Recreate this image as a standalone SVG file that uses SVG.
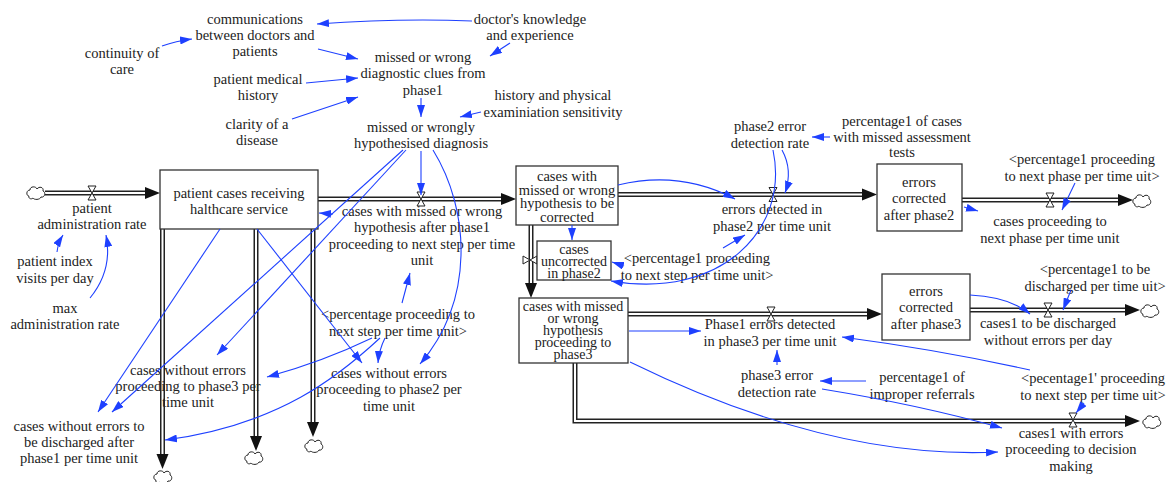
<svg xmlns="http://www.w3.org/2000/svg" xmlns:xlink="http://www.w3.org/1999/xlink" width="1176" height="482" viewBox="0 0 1176 482">
<style>
.t{font-family:"Liberation Serif","Times New Roman",serif;font-size:14.5px;fill:#222;text-anchor:middle}
.ts{font-size:14px}
.stock{fill:#fff;stroke:#333;stroke-width:1.3}
.po{fill:none;stroke:#222;stroke-width:5;stroke-linejoin:miter}
.pi{fill:none;stroke:#fff;stroke-width:2;stroke-linejoin:miter}
.lk{fill:none;stroke:#1e40ff;stroke-width:1.1;marker-end:url(#ab)}
.valve{fill:#fff;stroke:#222;stroke-width:1}
.cloud{fill:#fff;stroke:#222;stroke-width:1}
.ah{fill:#111}
</style>
<defs>
<marker id="ab" viewBox="0 0 12 8" refX="12" refY="4" markerWidth="12" markerHeight="8" orient="auto" markerUnits="userSpaceOnUse"><path d="M0,0 L12,4 L0,8 Z" fill="#1e40ff"/></marker>
<path id="ah" d="M0,0 L-15,-6 L-15,6 Z"/>
<polygon id="vv" points="-4,-7 4,-7 -4,7 4,7"/>
<path id="cl" d="M-7,3 C-10,3 -10,-3 -6,-3 C-6,-7 0,-7 1,-4 C3,-7 8,-6 7,-2 C10,-1 9,5 5,4 C4,7 -2,7 -3,5 C-5,7 -8,5 -7,3 Z"/>
</defs>

<g id="flows">
<path class="po" d="M45,193 L146,193"/><path class="pi" d="M45,193 L146,193"/>
<use href="#ah" class="ah" transform="translate(160,193)"/>
<use href="#cl" class="cloud" transform="translate(36,193)"/>
<use href="#vv" class="valve" transform="translate(92,193)"/>
<path class="po" d="M318,199 L502,199"/><path class="pi" d="M318,199 L502,199"/>
<use href="#ah" class="ah" transform="translate(516,199)"/>
<use href="#vv" class="valve" transform="translate(421,199)"/>
<path class="po" d="M618,194.5 L863,194.5"/><path class="pi" d="M618,194.5 L863,194.5"/>
<use href="#ah" class="ah" transform="translate(877,194.5)"/>
<use href="#vv" class="valve" transform="translate(773,194.5)"/>
<path class="po" d="M962,200 L1119,200"/><path class="pi" d="M962,200 L1119,200"/>
<use href="#ah" class="ah" transform="translate(1133,200)"/>
<use href="#cl" class="cloud" transform="translate(1142,201)"/>
<use href="#vv" class="valve" transform="translate(1050,200)"/>
<path class="po" d="M531,225 L531,284"/><path class="pi" d="M531,225 L531,284"/>
<use href="#ah" class="ah" transform="translate(531,298) rotate(90)"/>
<use href="#vv" class="valve" transform="translate(530,260) rotate(90)"/>
<path class="po" d="M628,314 L868,314"/><path class="pi" d="M628,314 L868,314"/>
<use href="#ah" class="ah" transform="translate(882,314)"/>
<use href="#vv" class="valve" transform="translate(771,314)"/>
<path class="po" d="M970,310 L1126,310"/><path class="pi" d="M970,310 L1126,310"/>
<use href="#ah" class="ah" transform="translate(1140,310)"/>
<use href="#cl" class="cloud" transform="translate(1150,311)"/>
<use href="#vv" class="valve" transform="translate(1048,310)"/>
<path class="po" d="M575,363 L575,421 L1126,421"/><path class="pi" d="M575,363 L575,421 L1126,421"/>
<use href="#ah" class="ah" transform="translate(1140,421)"/>
<use href="#cl" class="cloud" transform="translate(1152,422)"/>
<use href="#vv" class="valve" transform="translate(1073,420)"/>
<path class="po" d="M162.5,229 L162.5,455"/><path class="pi" d="M162.5,229 L162.5,455"/>
<use href="#ah" class="ah" transform="translate(162.5,469) rotate(90)"/>
<use href="#cl" class="cloud" transform="translate(163,477)"/>
<path class="po" d="M256,229 L256,437"/><path class="pi" d="M256,229 L256,437"/>
<use href="#ah" class="ah" transform="translate(256,451) rotate(90)"/>
<use href="#cl" class="cloud" transform="translate(254,458)"/>
<path class="po" d="M313,229 L313,423"/><path class="pi" d="M313,229 L313,423"/>
<use href="#ah" class="ah" transform="translate(313,437) rotate(90)"/>
<use href="#cl" class="cloud" transform="translate(314,446)"/>
</g>

<g id="stocks">
<g id="s1"><rect class="stock" x="160" y="170" width="158" height="59"/>
<text class="t" x="239" y="198">patient cases receiving<tspan x="239" dy="16">halthcare service</tspan></text></g>
<g id="s2"><rect class="stock" x="516" y="166" width="102" height="59"/>
<text class="t" x="567" y="181">cases with<tspan x="567" dy="13.7">missed or wrong</tspan><tspan x="567" dy="13.7">hypothesis to be</tspan><tspan x="567" dy="13.7">corrected</tspan></text></g>
<g id="s3"><rect class="stock" x="537" y="241" width="74" height="39"/>
<text class="t ts" x="574" y="254">cases<tspan x="574" dy="11.8">uncorrected</tspan><tspan x="574" dy="11.8">in phase2</tspan></text></g>
<g id="s4"><rect class="stock" x="519" y="298" width="109" height="65"/>
<text class="t ts" x="573" y="311">cases with missed<tspan x="573" dy="11.9">or wrong</tspan><tspan x="573" dy="11.9">hypothesis</tspan><tspan x="573" dy="11.9">proceeding to</tspan><tspan x="573" dy="11.9">phase3</tspan></text></g>
<g id="s5"><rect class="stock" x="877" y="164" width="85" height="67"/>
<text class="t" x="919" y="187">errors<tspan x="919" dy="16.3">corrected</tspan><tspan x="919" dy="16.3">after phase2</tspan></text></g>
<g id="s6"><rect class="stock" x="882" y="274" width="88" height="66"/>
<text class="t" x="926" y="296">errors<tspan x="926" dy="16.3">corrected</tspan><tspan x="926" dy="16.3">after phase3</tspan></text></g>
</g>

<g id="variables">
<text id="v1" class="t" x="255" y="24">communications<tspan x="255" dy="16">between doctors and</tspan><tspan x="255" dy="16">patients</tspan></text>
<text id="v2" class="t" x="122" y="58">continuity of<tspan x="122" dy="16">care</tspan></text>
<text id="v3" class="t" x="530" y="24">doctor's knowledge<tspan x="530" dy="16">and experience</tspan></text>
<text id="v4" class="t" x="423" y="62">missed or wrong<tspan x="423" dy="16.3">diagnostic clues from</tspan><tspan x="423" dy="16.3">phase1</tspan></text>
<text id="v5" class="t" x="258" y="84">patient medical<tspan x="258" dy="16">history</tspan></text>
<text id="v6" class="t" x="257" y="129">clarity of a<tspan x="257" dy="16">disease</tspan></text>
<text id="v7" class="t" x="553" y="100">history and physical<tspan x="553" dy="16.5">examiniation sensitivity</tspan></text>
<text id="v8" class="t" x="421" y="132">missed or wrongly<tspan x="421" dy="16">hypothesised diagnosis</tspan></text>
<text id="v9" class="t" x="92" y="213">patient<tspan x="92" dy="16">administration rate</tspan></text>
<text id="v10" class="t" x="55" y="266">patient index<tspan x="55" dy="16.5">visits per day</tspan></text>
<text id="v11" class="t" x="65" y="313">max<tspan x="65" dy="16">administration rate</tspan></text>
<text id="v12" class="t" x="422" y="216">cases with missed or wrong<tspan x="422" dy="16.3">hypothesis after phase1</tspan><tspan x="422" dy="16.3">proceeding to next step per time</tspan><tspan x="422" dy="16.3">unit</tspan></text>
<text id="v13" class="t" x="398" y="319">&lt;percentage proceeding to<tspan x="398" dy="16.5">next step per time unit&gt;</tspan></text>
<text id="v14" class="t" x="188" y="375">cases without errors<tspan x="188" dy="16">proceeding to phase3 per</tspan><tspan x="188" dy="16">time unit</tspan></text>
<text id="v15" class="t" x="389" y="378">cases without errors<tspan x="389" dy="16.3">proceeding to phase2 per</tspan><tspan x="389" dy="16.3">time unit</tspan></text>
<text id="v16" class="t" x="79" y="431">cases without errors to<tspan x="79" dy="16">be discharged after</tspan><tspan x="79" dy="16">phase1 per time unit</tspan></text>
<text id="v17" class="t" x="772" y="214">errors detected in<tspan x="772" dy="17">phase2 per time unit</tspan></text>
<text id="v18" class="t" x="770" y="131">phase2 error<tspan x="770" dy="16.5">detection rate</tspan></text>
<text id="v19" class="t" x="902" y="126">percentage1 of cases<tspan x="902" dy="15.5">with missed assessment</tspan><tspan x="902" dy="15.5">tests</tspan></text>
<text id="v20" class="t" x="697" y="263">&lt;percentage1 proceeding<tspan x="697" dy="16.5">to next step per time unit&gt;</tspan></text>
<text id="v21" class="t" x="1050" y="226">cases proceeding to<tspan x="1050" dy="16.5">next phase per time unit</tspan></text>
<text id="v22" class="t" x="1082" y="164">&lt;percentage1 proceeding<tspan x="1082" dy="16.5">to next phase per time uit&gt;</tspan></text>
<text id="v23" class="t" x="770" y="329">Phase1 errors detected<tspan x="770" dy="16.5">in phase3 per time unit</tspan></text>
<text id="v24" class="t" x="777" y="380">phase3 error<tspan x="777" dy="16.5">detection rate</tspan></text>
<text id="v25" class="t" x="922" y="382">percentage1 of<tspan x="922" dy="16.5">improper referrals</tspan></text>
<text id="v26" class="t" x="1048" y="328">cases1 to be discharged<tspan x="1048" dy="16.5">without errors per day</tspan></text>
<text id="v27" class="t" x="1095" y="274">&lt;percentage1 to be<tspan x="1095" dy="16.5">discharged per time uit&gt;</tspan></text>
<text id="v28" class="t" x="1093" y="383">&lt;pecentage1' proceeding<tspan x="1093" dy="17">to next step per time uit&gt;</tspan></text>
<text id="v29" class="t" x="1071" y="438">cases1 with errors<tspan x="1071" dy="16.3">proceeding to decision</tspan><tspan x="1071" dy="16.3">making</tspan></text>
</g>

<g id="links">
<path class="lk" d="M162,46 Q176,41 192,39"/>
<path class="lk" d="M472,21 Q400,18 317,24"/>
<path class="lk" d="M510,43 L490,56"/>
<path class="lk" d="M318,49 L358,59"/>
<path class="lk" d="M306,83 L358,78"/>
<path class="lk" d="M292,119 L358,97"/>
<path class="lk" d="M421,98 L421,117"/>
<path class="lk" d="M481,112 L460,117"/>
<path class="lk" d="M421,151 L421,195"/>
<path class="lk" d="M403,150 L112,412"/>
<path class="lk" d="M406,150 L217,355"/>
<path class="lk" d="M433,150 C470,210 475,300 420,364"/>
<path class="lk" d="M402,303 L410,273"/>
<path class="lk" d="M372,338 Q322,362 267,377"/>
<path class="lk" d="M380,338 C340,375 280,425 165,440"/>
<path class="lk" d="M385,338 Q379,350 378,363"/>
<path class="lk" d="M220,229 L98,412"/>
<path class="lk" d="M257,229 L362,363"/>
<path class="lk" d="M57,252 Q58,243 63,235"/>
<path class="lk" d="M90,298 Q113,270 106,235"/>
<path class="lk" d="M333,214 L319,213"/>
<path class="lk" d="M618,185 Q680,170 735,199"/>
<path class="lk" d="M572,225 L572,240"/>
<path class="lk" d="M773,150 C790,230 720,300 611,281"/>
<path class="lk" d="M782,150 Q793,170 785,193"/>
<path class="lk" d="M830,137 L812,137"/>
<path class="lk" d="M723,248 L745,235"/>
<path class="lk" d="M624,266 L612,262"/>
<path class="lk" d="M964,207 L978,211"/>
<path class="lk" d="M1075,183 L1062,210"/>
<path class="lk" d="M629,331 L701,331"/>
<path class="lk" d="M777,365 L777,350"/>
<path class="lk" d="M866,381 L820,381"/>
<path class="lk" d="M822,389 Q920,405 1002,428"/>
<path class="lk" d="M630,362 Q830,460 998,452"/>
<path class="lk" d="M970,295 Q1010,297 1030,314"/>
<path class="lk" d="M1071,290 L1063,310"/>
<path class="lk" d="M1030,370 Q940,350 842,337"/>
<path class="lk" d="M1084,403 L1076,413"/>
</g>
</svg>
